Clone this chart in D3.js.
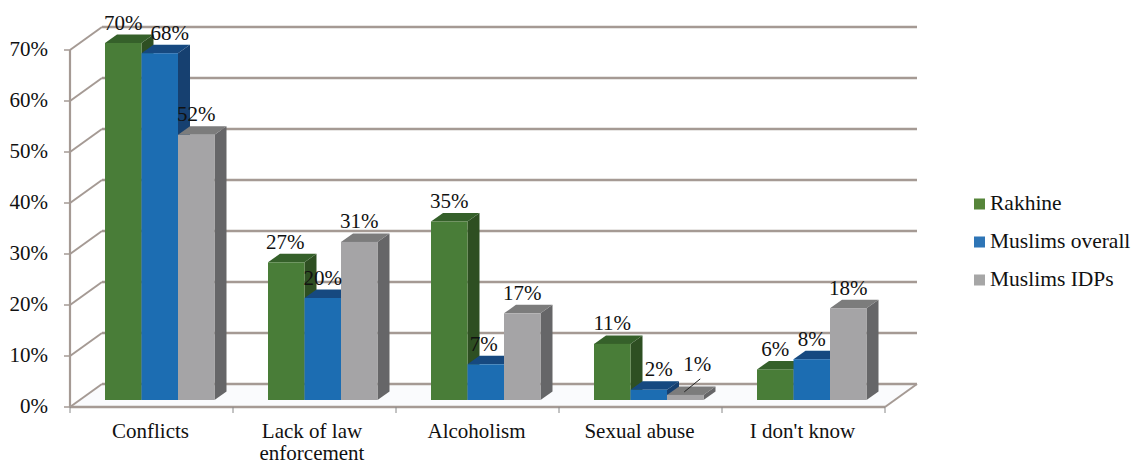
<!DOCTYPE html>
<html><head><meta charset="utf-8">
<script src="https://cdn.jsdelivr.net/npm/d3@7"></script>
<style>html,body{margin:0;padding:0;background:#fff}svg{display:block}text{font-family:"Liberation Serif",serif;fill:#111}</style>
</head><body><svg id="c" width="1133" height="465"></svg>
<script>
const categories=["Conflicts","Lack of law|enforcement","Alcoholism","Sexual abuse","I don't know"];
const seriesNames=["Rakhine","Muslims overall","Muslims IDPs"];
const rakhine=[70,27,35,11,6];
const muslimsOverall=[68,20,7,2,8];
const muslimsIDPs=[52,31,17,1,18];
const yTicks=[0,10,20,30,40,50,60,70];
const seriesValues=[rakhine,muslimsOverall,muslimsIDPs];
const colors=[{f:"#4a7d37",s:"#2f4f23",t:"#36602a"},{f:"#1f6db2",s:"#17406f",t:"#164a80"},{f:"#a5a4a6",s:"#666667",t:"#7b7b7c"}];
const legendColors=["#56853a","#2e75b6","#a6a6a6"];
const labelNudge={"0,1":10,"3,1":10,"3,2":12,"2,1":-2,"1,0":-1};
const labelLift={"3,2":10};

const svg=d3.select("#c");
const x=d3.scaleBand().domain(d3.range(categories.length)).range([70,885]);
const y=d3.scaleLinear().domain([0,70]).range([407,50]);
const wall=[32,-23], depth=[12,-8.5], baseLift=7;
const inner=d3.scaleBand().domain([0,1,2]).range([35,144.5]);
const grid="#a59a94";
const fs=21;

const g=svg.append("g").attr("filter","url(#soft)");
const defs=svg.append("defs");
defs.append("filter").attr("id","soft").append("feGaussianBlur").attr("stdDeviation",0.45);
const poly=pts=>pts.map(p=>p.join(",")).join(" ");

// floor
g.append("polygon").attr("fill","#fafbfd")
 .attr("points",poly([[70,y(0)],[885,y(0)],[885+wall[0],y(0)+wall[1]],[70+wall[0],y(0)+wall[1]]]));
// back wall lines and side-wall diagonals
g.selectAll("line.back").data(yTicks).join("line").attr("x1",70+wall[0]).attr("x2",885+wall[0])
 .attr("y1",d=>y(d)+wall[1]).attr("y2",d=>y(d)+wall[1]).attr("stroke",grid).attr("stroke-width",2.4);
g.selectAll("line.diag").data(yTicks).join("line").attr("x1",70).attr("x2",70+wall[0])
 .attr("y1",d=>y(d)).attr("y2",d=>y(d)+wall[1]).attr("stroke",grid).attr("stroke-width",2);
// axes
g.append("line").attr("x1",70).attr("x2",70).attr("y1",y(70)).attr("y2",y(0)).attr("stroke",grid).attr("stroke-width",2.2);
g.append("line").attr("x1",70).attr("x2",885).attr("y1",y(0)).attr("y2",y(0)).attr("stroke",grid).attr("stroke-width",2.4);
g.append("line").attr("x1",885).attr("x2",885+wall[0]).attr("y1",y(0)).attr("y2",y(0)+wall[1]).attr("stroke",grid).attr("stroke-width",2);
g.selectAll("line.yt").data(yTicks).join("line").attr("x1",64).attr("x2",70).attr("y1",d=>y(d)).attr("y2",d=>y(d)).attr("stroke",grid).attr("stroke-width",1.5);
g.selectAll("line.xt").data(d3.range(categories.length+1)).join("line")
 .attr("x1",d=>70+d*x.step()).attr("x2",d=>70+d*x.step()).attr("y1",y(0)).attr("y2",y(0)+6).attr("stroke","#888").attr("stroke-width",1);

// bars
categories.forEach((c,ci)=>{
 seriesValues.forEach((vals,si)=>{
  const x0=x(ci)+inner(si), x1=x0+inner.bandwidth();
  const yb=y(0)-baseLift, yt=y(vals[ci])-baseLift;
  const col=colors[si];
  g.append("polygon").attr("fill",col.s).attr("points",poly([[x1,yb],[x1+depth[0],yb+depth[1]],[x1+depth[0],yt+depth[1]],[x1,yt]]));
  g.append("polygon").attr("fill",col.t).attr("points",poly([[x0,yt],[x0+depth[0],yt+depth[1]],[x1+depth[0],yt+depth[1]],[x1,yt]]));
  g.append("rect").attr("x",x0).attr("y",yt).attr("width",x1-x0).attr("height",yb-yt).attr("fill",col.f);
 });
});

// y tick labels
svg.selectAll("text.yl").data(yTicks).join("text").attr("x",48).attr("y",d=>y(d)+6).attr("text-anchor","end")
 .attr("font-size",fs).text(d=>d+"%");
// category labels
categories.forEach((c,i)=>{
 const t=svg.append("text").attr("text-anchor","middle").attr("font-size",fs);
 c.split("|").forEach((line,k)=>t.append("tspan").attr("x",x(i)+x.bandwidth()/2-(i===1?2.5:1)).attr("y",438+k*22).text(line));
});
// data labels
categories.forEach((c,ci)=>{
 seriesValues.forEach((vals,si)=>{
  const key=ci+","+si;
  const cx=x(ci)+inner(si)+inner.bandwidth()/2+(labelNudge[key]||0);
  const yt=y(vals[ci])-baseLift+depth[1]-(labelLift[key]||0);
  svg.append("text").attr("x",cx).attr("y",yt-5).attr("text-anchor","middle").attr("font-size",fs).text(vals[ci]+"%");
 });
});
// leader line for the 1% label
{
 const cx=x(3)+inner(2)+inner.bandwidth()/2;
 const yt=y(muslimsIDPs[3])-baseLift;
 svg.append("line").attr("x1",cx-1).attr("y1",yt-3).attr("x2",cx+15).attr("y2",yt-16).attr("stroke","#222").attr("stroke-width",1);
}
// legend
const ly=d3.scalePoint().domain(seriesNames).range([204,280]);
seriesNames.forEach((n,i)=>{
 svg.append("rect").attr("x",974).attr("y",ly(n)-5.5).attr("width",11).attr("height",11).attr("fill",legendColors[i]);
 svg.append("text").attr("x",990).attr("y",ly(n)+6).attr("font-size",21.5).text(n);
});
</script></body></html>
